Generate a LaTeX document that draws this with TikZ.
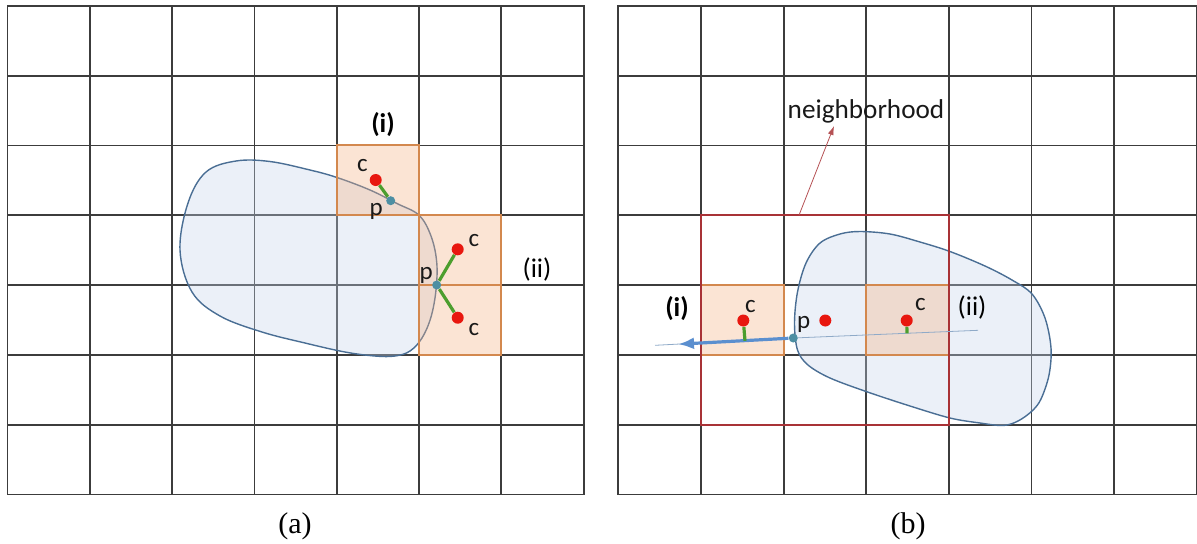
\documentclass[tikz,border=0pt]{standalone}
\usepackage{fontspec}
\setmainfont{Liberation Serif}
\newfontfamily\labelfont{Carlito}
\usepackage{tikz}
\usetikzlibrary{arrows.meta,positioning}
\definecolor{gdline}{HTML}{3C3C3C}
\definecolor{blobedge}{HTML}{4A6E94}
\definecolor{blobfill}{HTML}{C5D5EC}
\definecolor{celledge}{HTML}{D3884E}
\definecolor{cellfill}{HTML}{F4B183}
\definecolor{nbred}{HTML}{A83236}
\definecolor{dotred}{HTML}{E8170F}
\definecolor{pteal}{HTML}{4D8FA3}
\definecolor{lgreen}{HTML}{4C9E2E}
\definecolor{raygray}{HTML}{8FAAC8}
\definecolor{dirblue}{HTML}{5B8FCF}
\tikzset{
  gridline/.style={draw=gdline, line width=0.9pt, line cap=rect},
  blob/.style={draw=blobedge, fill=blobfill, fill opacity=0.35, line width=0.7pt},
  cellbox/.style={draw=celledge, fill=cellfill, fill opacity=0.35, line width=1pt},
  nbbox/.style={draw=nbred, line width=1pt},
  reddot/.style={circle, fill=dotred, inner sep=0pt, minimum size=6pt},
  pdot/.style={circle, fill=pteal, inner sep=0pt, minimum size=4.5pt},
  normline/.style={draw=lgreen, line width=1.6pt},
  ray/.style={draw=raygray, line width=0.4pt},
  dirarrow/.style={-{Latex[length=8pt,width=6pt]}, draw=dirblue, line width=1.6pt},
  nbarrow/.style={-{Latex[length=4.5pt,width=3pt]}, draw=nbred!85, line width=0.4pt},
  lbl/.style={font=\labelfont\fontsize{12.5}{14}\selectfont, text=black!90, inner sep=0pt},
  tagtext/.style={font=\labelfont\fontsize{13.5}{15}\selectfont, inner sep=0pt},
  boldtag/.style={tagtext, font=\labelfont\bfseries\fontsize{13.5}{15}\selectfont},
  captext/.style={font=\fontsize{15}{17}\selectfont, inner sep=0pt}
}

\begin{document}
\begin{tikzpicture}[x=0.5pt, y=-0.5pt]
  \useasboundingbox (0,0) rectangle (1197,543);

  % the two 7x7 grids
  \foreach \xo/\dx in {7.5/82.3, 618.3/82.65}{
    \foreach \i in {0,...,7}{
      \draw[gridline] ({\xo+\i*\dx},5.8) -- ({\xo+\i*\dx},494.4);
      \draw[gridline] (\xo,{5.8+\i*69.8}) -- ({\xo+7*\dx},{5.8+\i*69.8});
    }
  }

  % (a) object and boundary cells
  \draw[blob] plot[smooth cycle, tension=0.6] coordinates {
    (180,250) (188,203) (206,172) (236,161) (270,161.5) (310,170)
    (337,177.5) (370,190) (397,203.5) (419,215.2) (431,236) (436.7,262)
    (436,290) (431,317) (422,338) (410,351) (395,356) (375,356)
    (345,352) (305,343) (262,332) (220,316) (192,292)};
  \draw[cellbox] (336.7,145.4) rectangle (419,215.2);
  \draw[cellbox] (419,215.2) rectangle (501.3,285);
  \draw[cellbox] (419,285) rectangle (501.3,354.8);

  \node[reddot] (ca) at (375.7,180) {};
  \node[pdot] (pa) at (390.7,200.7) {};
  \node[pdot] (pb) at (436.7,285) {};
  \node[reddot] (cb) at (457.7,249.3) {};
  \node[reddot] (cc) at (457.7,317.7) {};
  \draw[normline] (ca) -- (pa);
  \draw[normline] (pb) -- (cb);
  \draw[normline] (pb) -- (cc);

  \node[lbl, above left=1.5pt and 1.5pt of ca] (calab) {c};
  \node[lbl, below left=-0.5pt and 2pt of pa] (palab) {p};
  \node[lbl, above left=-1pt and 0pt of pb] (pblab) {p};
  \node[lbl, above right=-1pt and 3pt of cb] (cblab) {c};
  \node[lbl, below right=0.5pt and 3pt of cc] (cclab) {c};
  \node[boldtag] (taga) at (383,125) {(i)};
  \node[tagtext] (tagb) at (537,269) {(ii)};

  % (b) object, neighborhood and search direction
  \draw[blob] plot[smooth cycle, tension=0.55] coordinates {
    (794.5,323) (797.5,292) (806,263) (820,243) (840,234) (860,231.5)
    (890,234) (920,242) (950,251.5) (985,266) (1012,280) (1032,294)
    (1045,318) (1051,348) (1049,375) (1041,399) (1032,411) (1018,421)
    (1003,425.5) (980,423) (950,418) (910,406) (866.7,391.7) (830,378)
    (808,365) (797.5,350)};
  \draw[cellbox] (700.95,285) rectangle (783.6,354.8);
  \draw[cellbox] (866.25,285) rectangle (948.9,354.8);
  \draw[nbbox] (700.95,215.2) rectangle (948.9,424.6);

  \node[reddot] (cd) at (743.3,320.5) {};
  \node[pdot] (pc) at (793.3,338) {};
  \node[reddot] (mid) at (825.3,320.5) {};
  \node[reddot] (ce) at (906.7,320.5) {};
  \coordinate (rayL) at (655,345.3);
  \coordinate (rayR) at (978,330.3);
  \coordinate (rayTip) at (678,344.2);
  \coordinate (footd) at (745,340.8);
  \coordinate (foote) at (907,333.3);
  \draw[ray] (rayL) -- (pc);
  \draw[ray] (pc) -- (rayR);
  \draw[dirarrow] (pc) -- (rayTip);
  \draw[normline] (cd) -- (footd);
  \draw[normline] (ce) -- (foote);

  \node[lbl, above right=1.5pt and -1.5pt of cd] (cdlab) {c};
  \node[lbl, above right=1pt and 0pt of pc] (pclab) {p};
  \node[lbl, above right=2.4pt and 1.8pt of ce] (celab) {c};
  \node[boldtag] (tagc) at (677,309) {(i)};
  \node[tagtext] (tagd) at (972,307) {(ii)};

  \node[lbl, font=\labelfont\fontsize{13.6}{15}\selectfont] (nblabel) at (866,111) {neighborhood};
  \coordinate (nbfoot) at (799,215.2);
  \coordinate (nbtip) at (834,126);
  \draw[nbarrow] (nbfoot) -- (nbtip);

  % captions
  \node[captext] (capa) at (295,526) {(a)};
  \node[captext] (capb) at (908,526) {(b)};
\end{tikzpicture}
\end{document}
